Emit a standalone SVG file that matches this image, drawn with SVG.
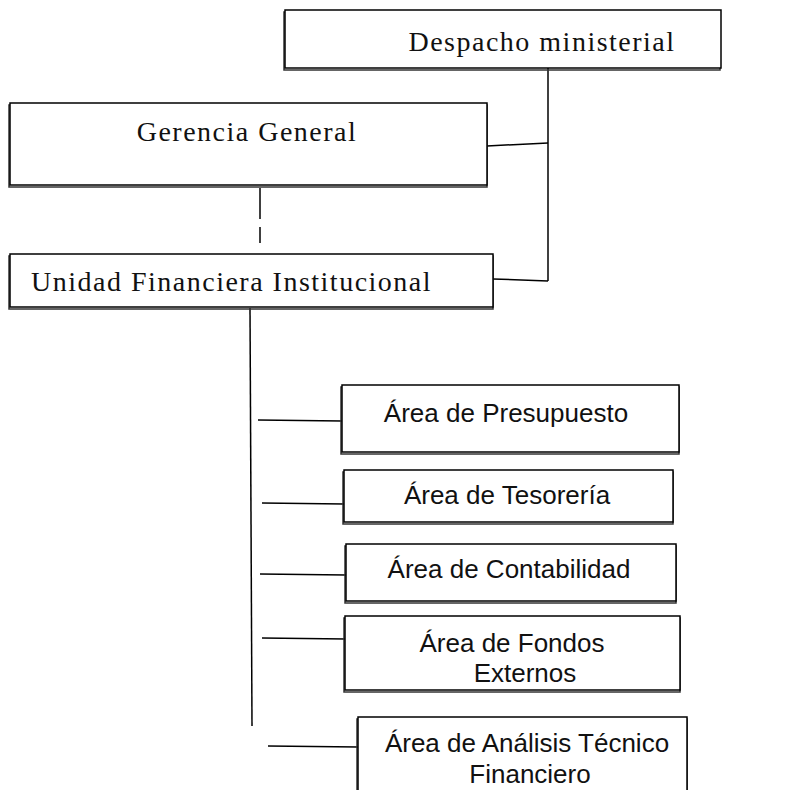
<svg xmlns="http://www.w3.org/2000/svg" width="788" height="790" viewBox="0 0 788 790">
<style>
.box{fill:#fff;stroke:#000;stroke-width:1.5}
.sh{fill:none;stroke:#333;stroke-width:1.5}
.ser{font-family:"Liberation Serif","Times New Roman",serif;font-size:28px;letter-spacing:1.5px;fill:#111}
.sans{font-family:"Liberation Sans",Arial,sans-serif;font-size:26px;fill:#111;text-anchor:middle}
.ln{stroke:#000;stroke-width:1.5;fill:none}
</style>
<rect width="788" height="790" fill="#fff"/>
<g id="connectors">
<line class="ln" x1="548" y1="68" x2="548" y2="281"/>
<line class="ln" x1="487" y1="146" x2="548" y2="143"/>
<line class="ln" x1="493" y1="279" x2="548" y2="281"/>
<line class="ln" x1="260" y1="188" x2="260" y2="219" stroke-width="2"/>
<line class="ln" x1="260" y1="227" x2="260" y2="243" stroke-width="2"/>
<line class="ln" x1="250" y1="308" x2="252" y2="726"/>
<line class="ln" x1="258" y1="420" x2="342" y2="421"/>
<line class="ln" x1="262" y1="503" x2="344" y2="504"/>
<line class="ln" x1="260" y1="574" x2="346" y2="575"/>
<line class="ln" x1="262" y1="638" x2="346" y2="639"/>
<line class="ln" x1="268" y1="746" x2="358" y2="747"/>
</g>
<g id="despacho">
<rect class="sh" x="284" y="12" width="436" height="58"/>
<rect class="box" x="285" y="10" width="436" height="58"/>
<text class="ser" x="542" y="51" text-anchor="middle">Despacho ministerial</text>
</g>
<g id="gerencia">
<rect class="sh" x="9" y="105" width="478" height="82"/>
<rect class="box" x="10" y="103" width="477" height="82"/>
<text class="ser" x="247" y="141" text-anchor="middle">Gerencia General</text>
</g>
<g id="ufi">
<rect class="sh" x="9" y="256" width="484" height="53"/>
<rect class="box" x="10" y="254" width="483" height="53"/>
<text class="ser" x="31" y="291">Unidad Financiera Institucional</text>
</g>
<g id="presupuesto">
<rect class="sh" x="341" y="387" width="338" height="67"/>
<rect class="box" x="342" y="385" width="337" height="67"/>
<text class="sans" x="506" y="422">Área de Presupuesto</text>
</g>
<g id="tesoreria">
<rect class="sh" x="343" y="472" width="330" height="52"/>
<rect class="box" x="344" y="470" width="329" height="52"/>
<text class="sans" x="507" y="504">Área de Tesorería</text>
</g>
<g id="contabilidad">
<rect class="sh" x="345" y="546" width="331" height="57"/>
<rect class="box" x="346" y="544" width="330" height="57"/>
<text class="sans" x="509" y="578">Área de Contabilidad</text>
</g>
<g id="fondos">
<rect class="sh" x="344" y="618" width="336" height="74"/>
<rect class="box" x="345" y="616" width="335" height="74"/>
<text class="sans" x="512" y="652">Área de Fondos</text>
<text class="sans" x="525" y="682" font-size="20">Externos</text>
</g>
<g id="analisis">
<rect class="sh" x="357" y="719" width="330" height="80"/>
<rect class="box" x="358" y="717" width="329" height="80"/>
<text class="sans" x="527" y="752">Área de Análisis Técnico</text>
<text class="sans" x="530" y="783" font-size="21">Financiero</text>
</g>
</svg>
